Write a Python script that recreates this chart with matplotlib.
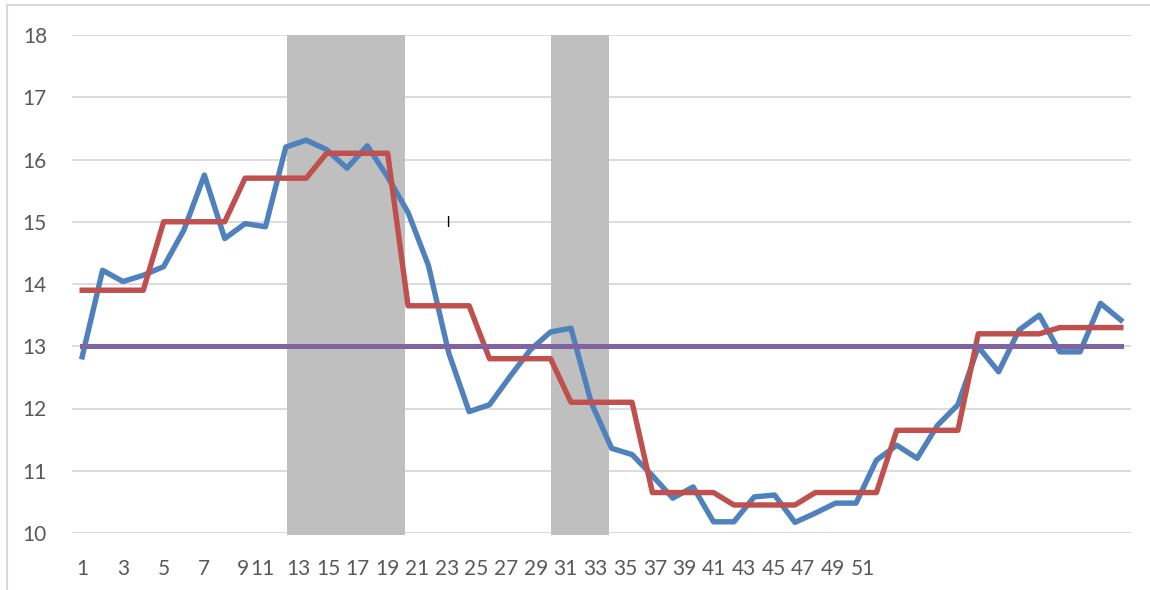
import numpy as np
from matplotlib import pyplot as plt
from matplotlib import rcParams
from matplotlib.patches import Rectangle

rcParams['font.family'] = ['Lato', 'DejaVu Sans']
rcParams['font.size'] = 15

# values
actual = [12.83, 14.22, 14.04, 14.14, 14.28, 14.87, 15.75, 14.73, 14.97, 14.92,
          16.20, 16.31, 16.16, 15.86, 16.22, 15.72, 15.15, 14.30, 12.89, 11.95,
          12.06, 12.51, 12.94, 13.23, 13.29, 12.09, 11.36, 11.26, 10.92, 10.56,
          10.74, 10.18, 10.18, 10.58, 10.61, 10.17, 10.32, 10.48, 10.48, 11.17,
          11.41, 11.20, 11.73, 12.06, 12.99, 12.59, 13.26, 13.50, 12.91, 12.91,
          13.69, 13.42]
step_levels = [13.9, 15.0, 15.7, 16.1, 13.65, 12.8, 12.1, 10.65, 10.45, 10.65,
               11.65, 13.2, 13.3]
baseline = 13.0
shaded = [(11.07, 16.85), (24.02, 26.88)]
tick_labels = [str(n) for n in range(1, 52, 2)]

cats = np.arange(1, len(actual) + 1)
stepped = np.repeat(step_levels, 4)

fig = plt.figure(figsize=(11.5, 5.9), dpi=100)
ax = fig.add_axes([72 / 1150, 1 - 533 / 590, (1131 - 72) / 1150, (533 - 35) / 590])

for lo, hi in shaded:
    ax.axvspan(lo, hi, ymin=-0.004, ymax=1, color='#bfbfbf', lw=0, zorder=1, clip_on=False)

ax.plot(cats, actual, color='#4f81bd', lw=3.9, zorder=3, solid_joinstyle='round')
ax.plot(cats, stepped, color='#c0504d', lw=3.9, zorder=4, solid_joinstyle='round')
ax.plot(cats, np.full(len(cats), baseline), color='#8064a2', lw=3.6, zorder=5,
        solid_capstyle='projecting')

ax.set_xlim(0.5, 52.5)
ax.set_ylim(10, 18)
ax.set_yticks(range(10, 19))
ax.grid(axis='y', color='#d9d9d9', lw=1.3, zorder=0)
ax.set_axisbelow(True)

# the category labels sit where the reference shows them
tick_pos = [1, 3, 5, 7, 8.9] + [11.61 + 1.459 * k for k in range(-1, 20)]
tick_pos[5] = 9.87
ax.set_xticks(tick_pos)
ax.set_xticklabels(tick_labels)

ax.tick_params(length=0, colors='#595959', labelsize=15)
ax.tick_params(axis='x', pad=19)
ax.tick_params(axis='y', pad=18)
for s in ax.spines.values():
    s.set_visible(False)

ax.text(18.94, 15.0, '|', fontsize=8, fontweight='heavy', color='black',
        ha='center', va='center', zorder=6)

fig.patches.append(Rectangle((7 / 1150, -0.1), 1.2, 1 - 5 / 590 + 0.1,
                             transform=fig.transFigure, fill=False,
                             edgecolor='#d9d9d9', lw=1.5))

fig.savefig('out.png', dpi=100)
